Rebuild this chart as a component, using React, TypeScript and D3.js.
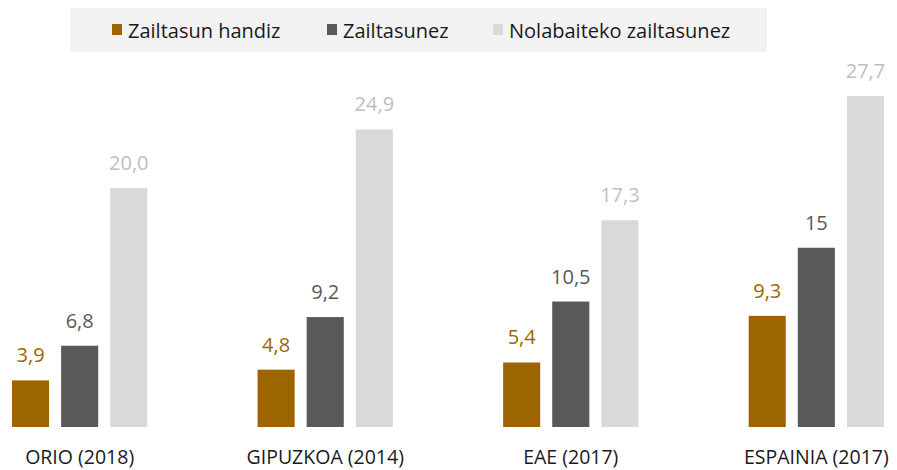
import React, { useRef, useEffect } from 'react';
import * as d3 from 'd3';

const categories = ['ORIO (2018)', 'GIPUZKOA (2014)', 'EAE (2017)', 'ESPAINIA (2017)'];
const seriesNames = ['Zailtasun handiz', 'Zailtasunez', 'Nolabaiteko zailtasunez'];
const handiz = [3.9, 4.8, 5.4, 9.3];
const zailtasunez = [6.8, 9.2, 10.5, 15];
const nolabaiteko = [20.0, 24.9, 17.3, 27.7];
const valueLabels = [
    ['3,9', '4,8', '5,4', '9,3'],
    ['6,8', '9,2', '10,5', '15'],
    ['20,0', '24,9', '17,3', '27,7'],
];
const colors = ['#9c6500', '#595959', '#d9d9d9'];
const labelColors = ['#9c6500', '#595959', '#bfbfbf'];

const width = 897;
const height = 470;
const font = "'Open Sans', sans-serif";

const App = () => {
    const ref = useRef<SVGSVGElement>(null);

    useEffect(() => {
        const svg = d3.select(ref.current)
            .attr('width', width)
            .attr('height', height)
            .style('background-color', 'white');

        svg.selectAll('*').remove();

        const series = [handiz, zailtasunez, nolabaiteko];

        const x0 = d3.scaleBand()
            .domain(categories)
            .range([12, 884])
            .paddingInner(0.449)
            .paddingOuter(0);

        const x1 = d3.scaleBand()
            .domain(seriesNames)
            .range([0, x0.bandwidth()])
            .paddingInner(0.245)
            .paddingOuter(0);

        const y = d3.scaleLinear()
            .domain([0, 27.7])
            .range([427, 96]);

        // legend
        const legend = svg.append('g');
        legend.append('rect')
            .attr('x', 70).attr('y', 8)
            .attr('width', 697).attr('height', 44)
            .attr('fill', '#f2f2f2');
        const legendX = [112, 327, 493];
        seriesNames.forEach((name, i) => {
            legend.append('rect')
                .attr('x', legendX[i]).attr('y', 24)
                .attr('width', 10).attr('height', 11)
                .attr('fill', colors[i]);
            legend.append('text')
                .attr('x', legendX[i] + 16).attr('y', 38)
                .text(name)
                .style('font-family', font)
                .style('font-size', '20px')
                .attr('fill', '#1a1a1a');
        });

        const groups = svg.append('g')
            .selectAll('g')
            .data(categories)
            .enter()
            .append('g')
            .attr('transform', (d) => `translate(${x0(d)},0)`);

        series.forEach((vals, si) => {
            groups.append('rect')
                .attr('x', x1(seriesNames[si]) as number)
                .attr('y', (d, i) => y(vals[i]))
                .attr('width', x1.bandwidth())
                .attr('height', (d, i) => y(0) - y(vals[i]))
                .attr('fill', colors[si]);

            groups.append('text')
                .attr('x', (x1(seriesNames[si]) as number) + x1.bandwidth() / 2)
                .attr('y', (d, i) => y(vals[i]) - 18)
                .attr('text-anchor', 'middle')
                .text((d, i) => valueLabels[si][i])
                .style('font-family', font)
                .style('font-size', '20px')
                .attr('fill', labelColors[si]);
        });

        groups.append('text')
            .attr('x', x0.bandwidth() / 2)
            .attr('y', 464)
            .attr('text-anchor', 'middle')
            .text((d) => d)
            .style('font-family', font)
            .style('font-size', '19.5px')
            .attr('fill', '#1a1a1a');
    }, []);

    return (
        <div style={{ position: 'absolute', top: 0, left: 0 }}>
            <svg ref={ref} style={{ display: 'block' }}></svg>
        </div>
    );
};

export default App;
